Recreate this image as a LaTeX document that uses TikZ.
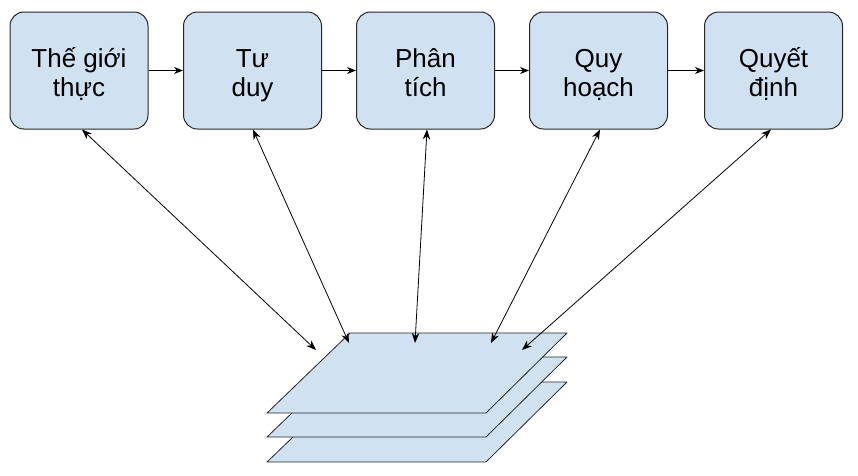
\documentclass[tikz,border=0pt]{standalone}
\usepackage{fontspec}
\setmainfont{Liberation Sans}
\usetikzlibrary{positioning,arrows.meta}
\definecolor{boxfill}{HTML}{D0E1F2}

\begin{document}
\begin{tikzpicture}[
    x=1pt, y=-1pt,
    stepbox/.style={draw=black!85, fill=boxfill, rounded corners=14pt, line width=1pt, minimum width=138pt, minimum height=117pt, inner sep=0pt, align=center, font=\fontsize{26}{29}\selectfont},
    flow/.style={-{Stealth[length=9pt,width=7pt]}, line width=0.9pt},
    link/.style={{Stealth[length=10pt,width=7.5pt]}-{Stealth[length=10pt,width=7.5pt]}, line width=0.8pt},
    sheet/.style={draw=black!85, fill=boxfill, line width=0.8pt, line join=round}
]
    \useasboundingbox (0,0) rectangle (858,475);

    % Chuỗi các bước (rule giữ cho hai dòng chữ cùng độ cao)
    \node[stepbox] (b1) at (79,70.5) {\rule{0pt}{28pt}Thế giới\\thực\rule[-6pt]{0pt}{6pt}};
    \node[stepbox] (b2) at (252.5,70.5) {\rule{0pt}{28pt}Tư\\duy\rule[-6pt]{0pt}{6pt}};
    \node[stepbox] (b3) at (425.5,70.5) {\rule{0pt}{28pt}Phân\\tích\rule[-6pt]{0pt}{6pt}};
    \node[stepbox] (b4) at (598.5,70.5) {\rule{0pt}{28pt}Quy\\hoạch\rule[-6pt]{0pt}{6pt}};
    \node[stepbox] (b5) at (773.5,70.5) {\rule{0pt}{28pt}Quyết\\định\rule[-6pt]{0pt}{6pt}};

    \draw[flow] (b1) -- (b2);
    \draw[flow] (b2) -- (b3);
    \draw[flow] (b3) -- (b4);
    \draw[flow] (b4) -- (b5);

    % Các lớp dữ liệu (vẽ từ dưới lên)
    \draw[sheet] (350,382) -- (567,382) -- (486,462) -- (267,462) -- cycle;
    \draw[sheet] (350,357) -- (567,357) -- (486,437) -- (267,437) -- cycle;
    \draw[sheet] (350,333) -- (567,333) -- (486,413) -- (267,413) -- cycle;

    % Điểm nối trên lớp trên cùng
    \coordinate (s1) at (316,350);
    \coordinate (s2) at (349,343);
    \coordinate (s3) at (415,343);
    \coordinate (s4) at (491,343);
    \coordinate (s5) at (522,350);

    \draw[link] ([xshift=3pt]b1.south) -- (s1);
    \draw[link] ([xshift=0.5pt]b2.south) -- (s2);
    \draw[link] ([xshift=1.5pt]b3.south) -- (s3);
    \draw[link] ([xshift=1.5pt]b4.south) -- (s4);
    \draw[link] ([xshift=-2.5pt]b5.south) -- (s5);
\end{tikzpicture}
\end{document}
